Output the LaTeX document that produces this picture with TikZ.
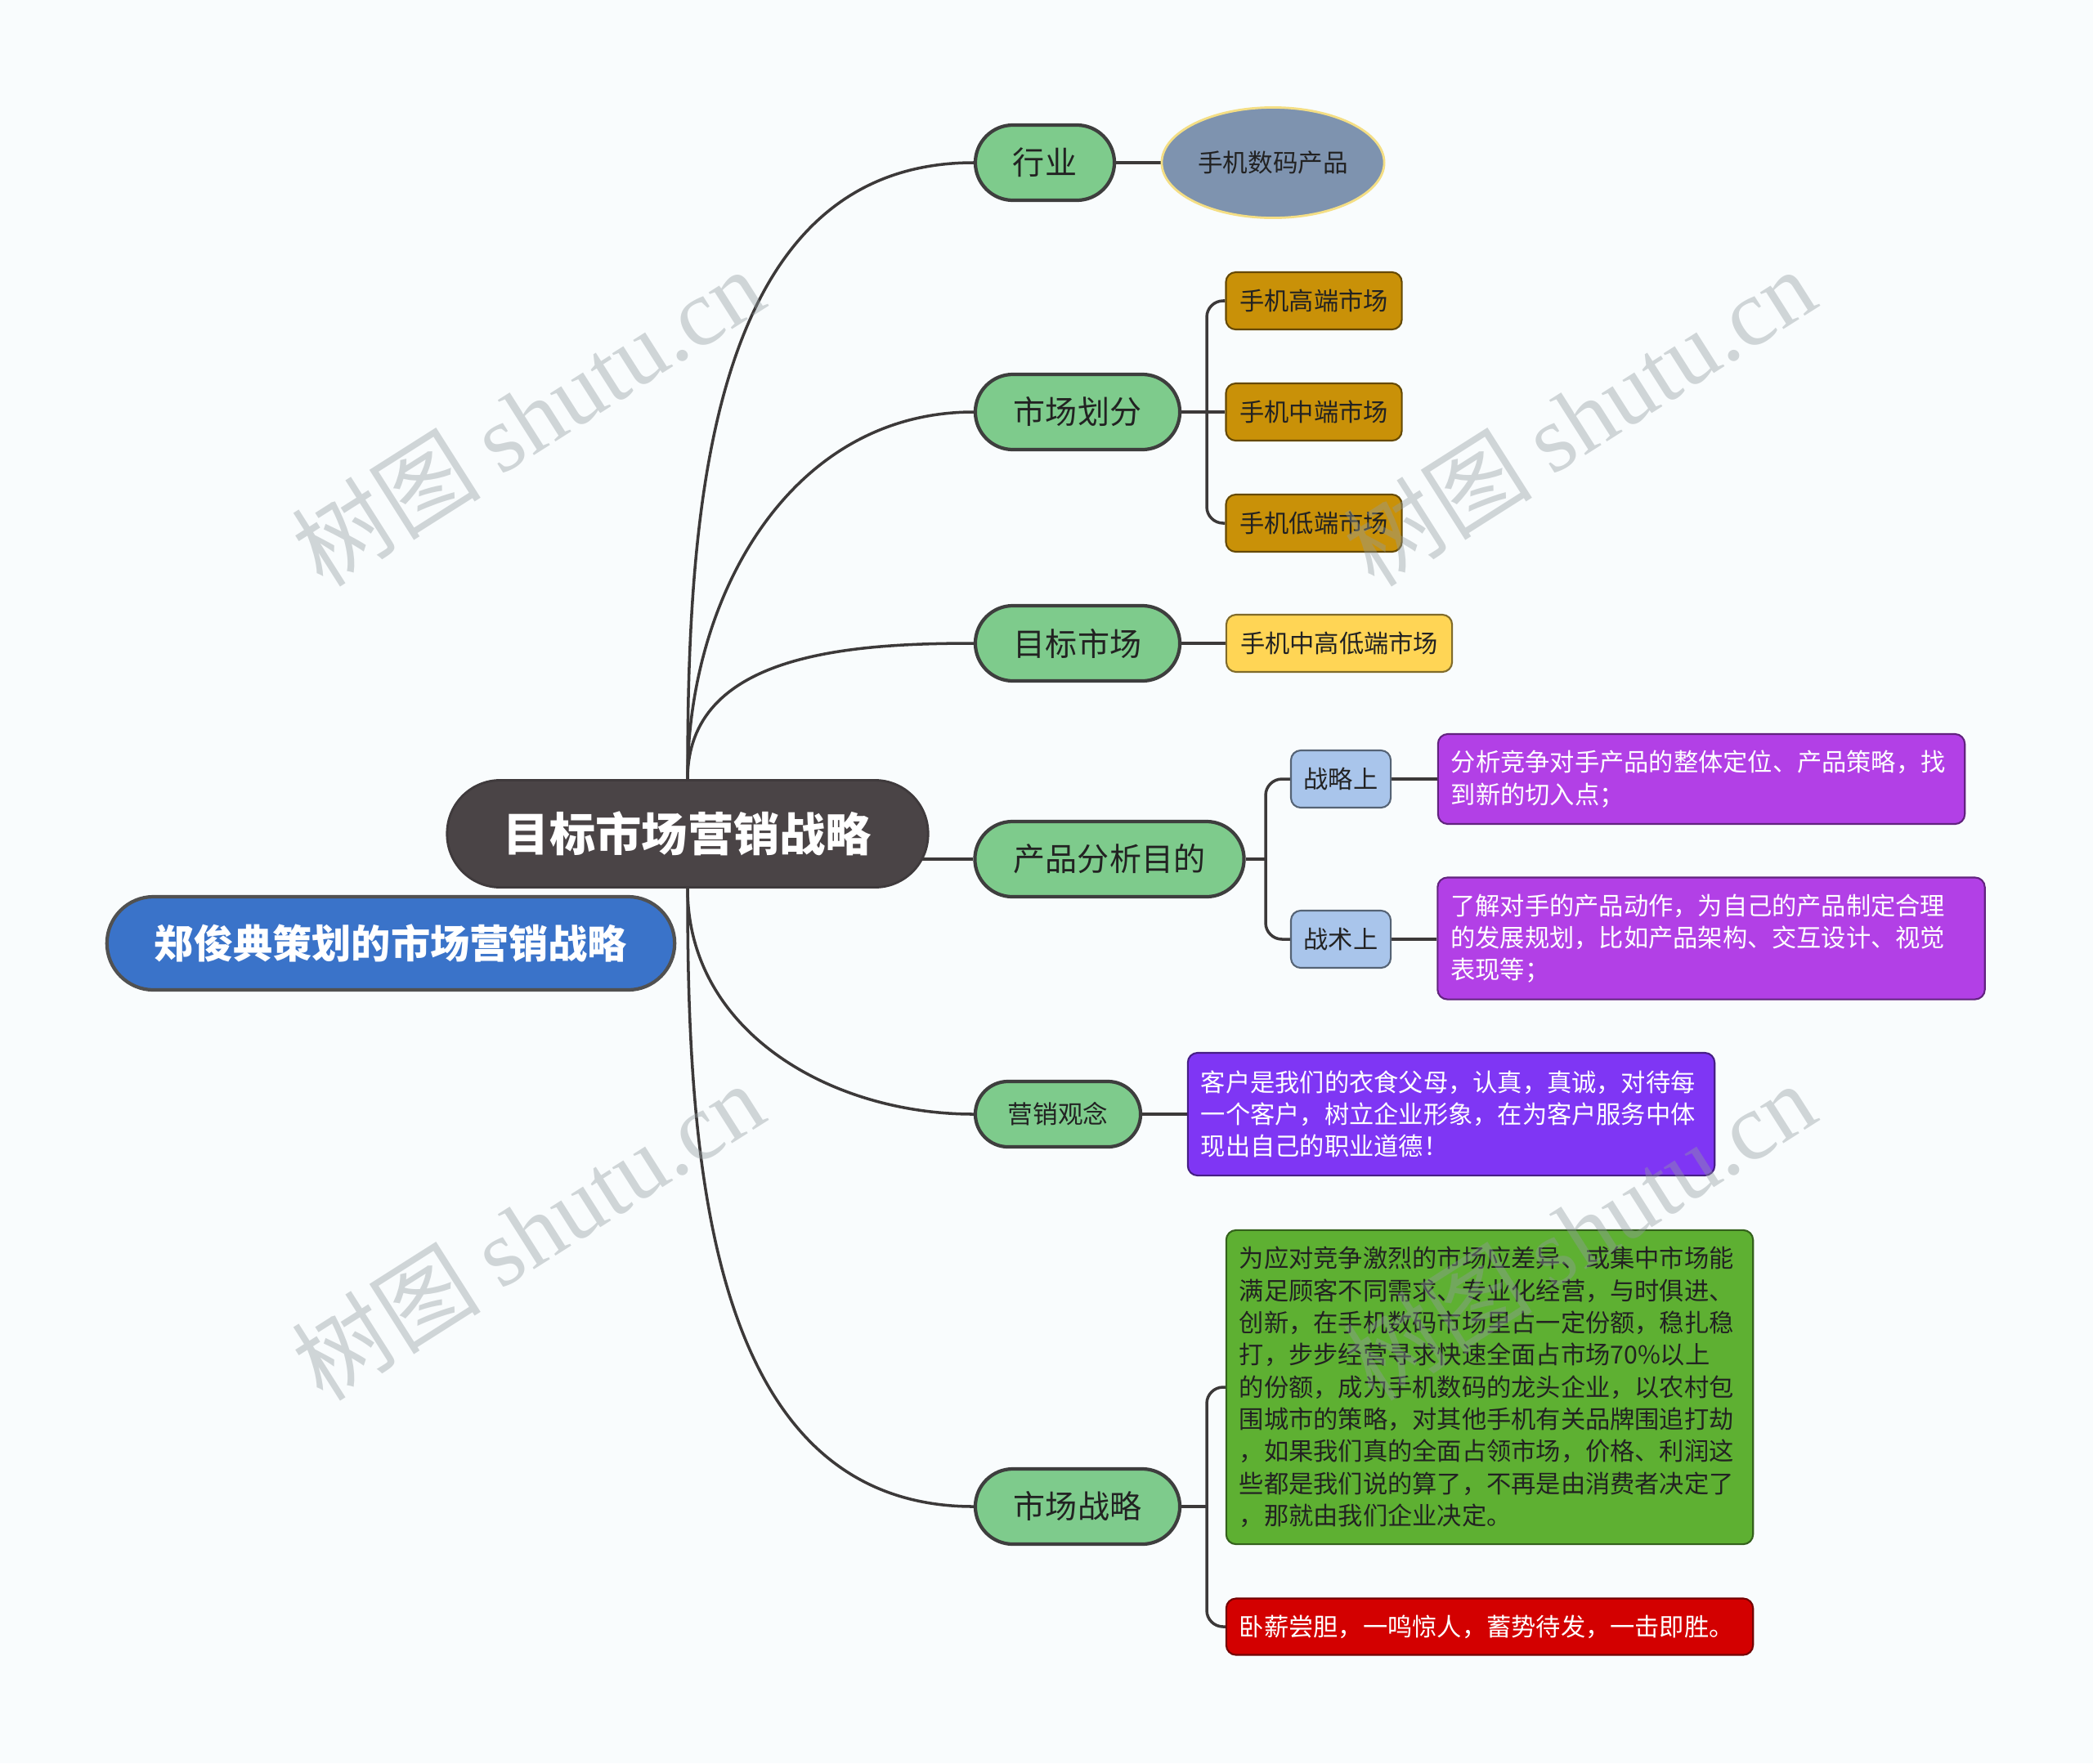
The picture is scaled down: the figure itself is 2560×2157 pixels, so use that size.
\documentclass[tikz,border=0pt]{standalone}
\usepackage{fontspec}
\setmainfont{Noto Sans CJK SC}
\newfontfamily\wmserif{Liberation Serif}
\usetikzlibrary{shapes.geometric,positioning,backgrounds}

\definecolor{bgwhite}{RGB}{249,252,253}
\definecolor{linkgray}{RGB}{60,57,57}
\definecolor{edgegray}{RGB}{62,62,62}
\definecolor{darktext}{RGB}{34,34,34}
\definecolor{rootdark}{RGB}{74,68,70}
\definecolor{titleblue}{RGB}{58,115,201}
\definecolor{topicgreen}{RGB}{126,203,140}
\definecolor{ellblue}{RGB}{126,147,175}
\definecolor{ellyellow}{RGB}{244,222,132}
\definecolor{goldleaf}{RGB}{201,145,8}
\definecolor{yellowleaf}{RGB}{255,213,85}
\definecolor{paleblue}{RGB}{169,197,235}
\definecolor{notepurple}{RGB}{178,64,230}
\definecolor{noteviolet}{RGB}{127,54,244}
\definecolor{notegreen}{RGB}{94,176,50}
\definecolor{notered}{RGB}{211,0,0}
\definecolor{wmgray}{RGB}{145,155,159}

\begin{document}
\begin{tikzpicture}[x=0.01cm, y=-0.01cm,
    link/.style={draw=linkgray, line width=1pt},
    topic/.style={draw=edgegray, line width=1.2pt, fill=topicgreen, rounded corners=0.46cm,
        minimum height=0.92cm, inner sep=0pt, text=darktext, font=\fontsize{11.1}{13}\selectfont},
    leaf/.style={fill=#1, draw=#1!50!black, line width=0.6pt, rounded corners=0.12cm,
        minimum height=0.7cm, inner sep=0pt, text=darktext, font=\fontsize{8.6}{10}\selectfont},
    note/.style={fill=#1, draw=#1!55!black, line width=0.6pt, rounded corners=0.12cm,
        inner xsep=0.16cm, inner ysep=0pt, align=left, text=white, font=\fontsize{8.6}{11.2}\selectfont},
    watermark/.style={rotate=32.4, text=wmgray, opacity=0.4, font=\fontsize{33}{37}\selectfont}]
    \useasboundingbox (0,0) rectangle (2560,2157);

    % central topics
    \node[fill=rootdark, draw=rootdark!85!black, line width=0.8pt, rounded corners=0.65cm,
        minimum width=5.88cm, minimum height=1.31cm, inner sep=0pt, text=white,
        font=\fontsize{16}{19}\selectfont\bfseries] (root) at (841,1020) {目标市场营销战略};
    \node[fill=titleblue, draw=edgegray!90, line width=1.2pt, rounded corners=0.57cm,
        minimum width=6.94cm, minimum height=1.14cm, inner sep=0pt, text=white,
        font=\fontsize{13.7}{16}\selectfont\bfseries] (title) at (478,1154) {郑俊典策划的市场营销战略};

    % main branches
    \node[topic, minimum width=1.70cm] (hy) at (1278,199) {行业};
    \node[topic, minimum width=2.50cm] (sc) at (1318,504) {市场划分};
    \node[topic, minimum width=2.50cm] (mb) at (1318,787) {目标市场};
    \node[topic, minimum width=3.29cm] (cp) at (1357,1051) {产品分析目的};
    \node[topic, minimum width=2.02cm, minimum height=0.80cm, rounded corners=0.40cm,
        font=\fontsize{8.7}{10}\selectfont] (yx) at (1294,1363) {营销观念};
    \node[topic, minimum width=2.50cm] (zl) at (1318,1843) {市场战略};

    % sub branches
    \node[ellipse, fill=ellblue, draw=ellyellow, line width=0.8pt, minimum width=2.72cm,
        minimum height=1.35cm, inner sep=0pt, text=darktext,
        font=\fontsize{8.7}{10}\selectfont] (hyc) at (1557,199) {手机数码产品};
    \node[leaf=goldleaf, minimum width=2.15cm] (g1) at (1607,368) {手机高端市场};
    \node[leaf=goldleaf, minimum width=2.15cm] (g2) at (1607,504) {手机中端市场};
    \node[leaf=goldleaf, minimum width=2.15cm] (g3) at (1607,640) {手机低端市场};
    \node[leaf=yellowleaf, minimum width=2.76cm] (y1) at (1638,787) {手机中高低端市场};
    \node[leaf=paleblue, minimum width=1.22cm] (b1) at (1640,953) {战略上};
    \node[leaf=paleblue, minimum width=1.22cm] (b2) at (1640,1149) {战术上};

    % text boxes
    \node[note=notepurple, text width=6.12cm, minimum height=1.10cm] (p1) at (2081,953)
        {分析竞争对手产品的整体定位、产品策略，找\\到新的切入点；};
    \node[note=notepurple, text width=6.37cm, minimum height=1.49cm] (p2) at (2093,1148)
        {了解对手的产品动作，为自己的产品制定合理\\的发展规划，比如产品架构、交互设计、视觉\\表现等；};
    \node[note=noteviolet, text width=6.12cm, minimum height=1.50cm] (v1) at (1775,1363)
        {客户是我们的衣食父母，认真，真诚，对待每\\一个客户，树立企业形象，在为客户服务中体\\现出自己的职业道德！};
    \node[note=notegreen, text=darktext, text width=6.12cm, minimum height=3.84cm] (gr) at (1822,1697)
        {为应对竞争激烈的市场应差异、或集中市场能\\满足顾客不同需求、专业化经营，与时俱进、\\创新，在手机数码市场里占一定份额，稳扎稳\\打，步步经营寻求快速全面占市场70\%以上\\的份额，成为手机数码的龙头企业，以农村包\\围城市的策略，对其他手机有关品牌围追打劫\\，如果我们真的全面占领市场，价格、利润这\\些都是我们说的算了，不再是由消费者决定了\\，那就由我们企业决定。};
    \node[note=notered, text width=6.12cm, minimum height=0.69cm] (rd) at (1822,1990)
        {卧薪尝胆，一鸣惊人，蓄势待发，一击即胜。};

    % fork points
    \coordinate (scf) at (1476,504);
    \coordinate (cpf) at (1548,1051);
    \coordinate (zlf) at (1476,1843);

    \begin{scope}[on background layer]
        \fill[bgwhite] (0,0) rectangle (2560,2157);
        % curves from the root
        \draw[link] (root.north) .. controls +(0,-326) and +(-326,0) .. (hy.west);
        \draw[link] (root.north) .. controls +(0,-224) and +(-224,0) .. (sc.west);
        \draw[link] (root.north) .. controls +(0,-153) and +(-153,0) .. (mb.west);
        \draw[link] (root.center |- cp.west) -- (cp.west);
        \draw[link] (root.south) .. controls +(0,175) and +(-175,0) .. (yx.west);
        \draw[link] (root.south) .. controls +(0,327) and +(-327,0) .. (zl.west);
        % second level
        \draw[link] (hy.east) -- (hyc.west);
        \draw[link] (sc.east) -- (g2.west);
        \draw[link, rounded corners=0.2cm] (g1.west) -| (scf) |- (g3.west);
        \draw[link] (mb.east) -- (y1.west);
        \draw[link] (cp.east) -- (cpf);
        \draw[link, rounded corners=0.2cm] (b1.west) -| (cpf) |- (b2.west);
        \draw[link] (b1.east) -- (b1.east -| p1.west);
        \draw[link] (b2.east) -- (b2.east -| p2.west);
        \draw[link] (yx.east) -- (v1.west);
        \draw[link] (zl.east) -- (zlf);
        \draw[link, rounded corners=0.2cm] (gr.west) -| (zlf) |- (rd.west);
    \end{scope}

    % watermarks
    \foreach \wx/\wy in {645/510, 1931/510, 645/1506, 1931/1506}
        \node[watermark] (wm) at (\wx,\wy) {树图 {\wmserif shutu.cn}};
\end{tikzpicture}
\end{document}
